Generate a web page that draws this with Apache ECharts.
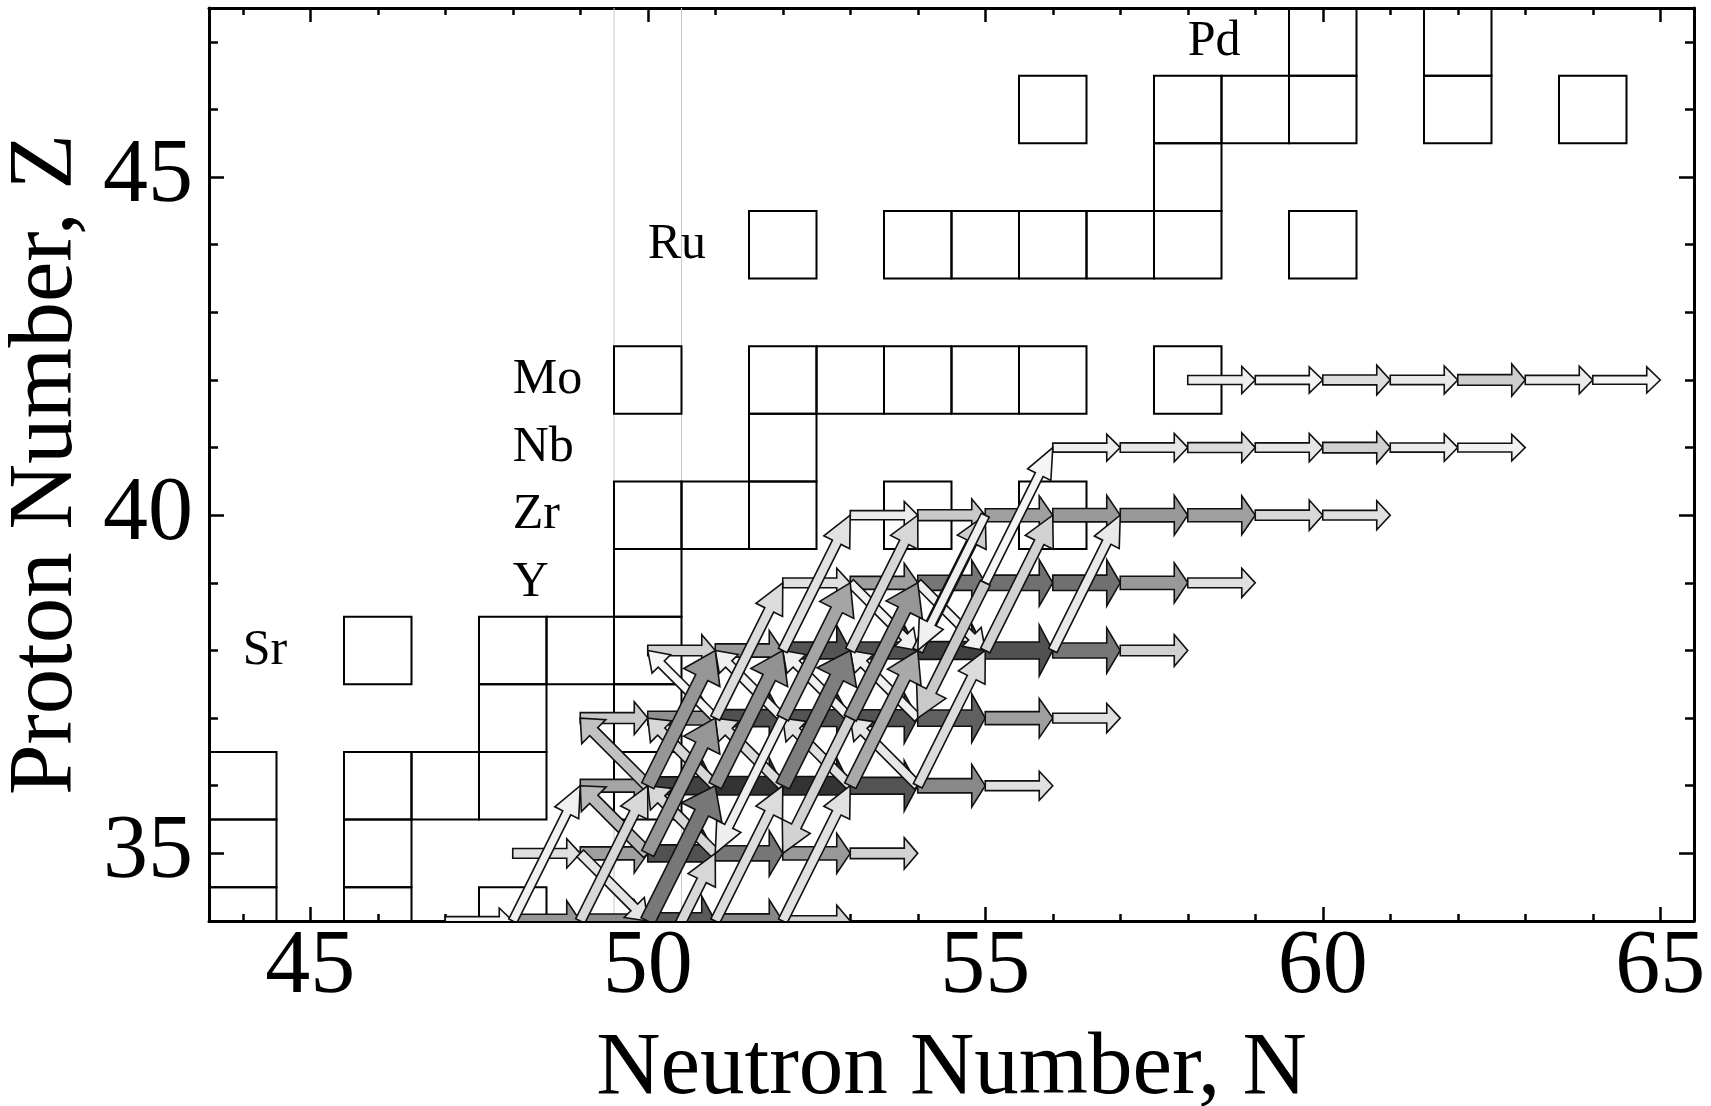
<!DOCTYPE html>
<html>
<head>
<meta charset="utf-8">
<script src="https://cdn.jsdelivr.net/npm/echarts@6/dist/echarts.min.js"></script>
<style>
html,body{margin:0;padding:0;background:#fff}
#chart{width:1711px;height:1106px}
</style>
</head>
<body>
<div id="chart"></div>
<script>
// stable nuclei, one row per proton number: [Z, [N, ...]]
var stableRows = [
    [34, [44, 46, 48]],
    [35, [44, 46]],
    [36, [44, 46, 47, 48, 50]],
    [37, [48, 50]],
    [38, [46, 48, 49, 50]],
    [39, [50]],
    [40, [50, 51, 52, 54, 56]],
    [41, [52]],
    [42, [50, 52, 53, 54, 55, 56, 58]],
    [44, [52, 54, 55, 56, 57, 58, 60]],
    [45, [58]],
    [46, [56, 58, 59, 60, 62, 64]],
    [47, [60, 62]]
];
var elementLabels = [['Sr', 44, 38], ['Y', 48, 39], ['Zr', 48, 40], ['Nb', 48, 41], ['Mo', 48, 42], ['Ru', 50, 44], ['Pd', 58, 47]];
var shellLines = [49.5, 50.5];

var xMajor = [45, 50, 55, 60, 65];
var xMinor = [44, 46, 47, 48, 49, 51, 52, 53, 54, 56, 57, 58, 59, 61, 62, 63, 64];
var yMajor = [35, 40, 45];
var yMinor = [34, 36, 37, 38, 39, 41, 42, 43, 44, 46, 47];

// flows [N, Z, log10 flow]
// (n,g): (N,Z) -> (N+1,Z)
var ngFlow = [
    [47,34,-5.92],[48,34,-3.5],[49,34,-3.25],[50,34,-2.0],[51,34,-3.15],[52,34,-5.0],
    [48,35,-5.4],[49,35,-3.75],[50,35,-1.75],[51,35,-2.7],[52,35,-3.6],[53,35,-5.0],
    [49,36,-3.9],[50,36,-1.35],[51,36,-1.0],[52,36,-1.0],[53,36,-1.85],[54,36,-3.15],[55,36,-5.4],
    [49,37,-4.8],[50,37,-3.36],[51,37,-1.75],[52,37,-1.85],[53,37,-1.85],[54,37,-2.15],[55,37,-3.75],[56,37,-5.4],
    [50,38,-5.0],[51,38,-3.6],[52,38,-1.85],[53,38,-1.75],[54,38,-1.35],[55,38,-1.75],[56,38,-2.7],[57,38,-5.0],
    [52,39,-5.4],[53,39,-3.75],[54,39,-2.7],[55,39,-2.55],[56,39,-2.55],[57,39,-3.6],[58,39,-5.4],
    [53,40,-5.67],[54,40,-4.8],[55,40,-3.75],[56,40,-3.6],[57,40,-3.6],[58,40,-3.75],[59,40,-5.2],[60,40,-5.4],
    [56,41,-5.75],[57,41,-5.55],[58,41,-5.3],[59,41,-5.55],[60,41,-5.0],[61,41,-5.7],[62,41,-5.85],
    [58,42,-5.75],[59,42,-5.88],[60,42,-5.3],[61,42,-5.6],[62,42,-4.9],[63,42,-5.65],[64,42,-5.92]
];
// (a,n): (N,Z) -> (N+1,Z+2)
var anFlow = [
    [50,33,-5.16],[48,34,-5.8],[49,34,-5.2],[50,34,-2.75],[51,34,-5.3],[52,34,-5.42],
    [50,35,-3.5],[50,36,-3.5],[51,36,-3.4],[52,36,-2.9],[53,36,-4.0],[54,36,-5.3],
    [51,37,-5.3],[52,37,-3.9],[53,37,-3.5],
    [52,38,-5.42],[53,38,-5.16],[54,38,-4.9],[55,38,-5.04],[56,38,-5.6],
    [55,39,-5.92]
];
// (n,a): (N,Z) -> (N-1,Z-2)
var naFlow = [[52,37,-5.75],[53,37,-5.04],[55,39,-4.8],[55,40,-5.8]];
// (p,n): (N,Z) -> (N-1,Z+1)
var pnFlow = [
    [50,35,-4.4],[50,36,-4.6],[51,35,-5.16],[51,36,-5.16],[51,37,-5.92],[52,36,-5.3],
    [52,37,-5.8],[53,36,-5.42],[53,37,-5.8],[54,37,-5.8],[54,36,-5.55]
];
// (n,p): (N,Z) -> (N+1,Z-1)
var npFlow = [[49,35,-5.5],[53,39,-5.85],[54,39,-5.8]];

var serif = 'Liberation Serif';

function toArrows(list, dn, dz) {
    return list.map(function (d) { return [d[0], d[1], d[0] + dn, d[1] + dz, d[2]]; });
}
var straightArrows = toArrows(ngFlow, 1, 0);
var diagArrows = toArrows(pnFlow, -1, 1).concat(toArrows(npFlow, 1, -1));
var steepArrows = toArrows(anFlow, 1, 2).concat(toArrows(naFlow, -1, -2));

var boxData = [];
stableRows.forEach(function (r) {
    r[1].forEach(function (n) { boxData.push([n, r[0]]); });
});

function gridClip(params) {
    var cs = params.coordSys;
    return {type: 'rect', shape: {x: cs.x, y: cs.y, width: cs.width, height: cs.height}};
}

//箭头：灰度和粗细都跟通量走
function renderArrow(params, api) {
    var p0 = api.coord([api.value(0), api.value(1)]);
    var p1 = api.coord([api.value(2), api.value(3)]);
    var t = Math.max(0, Math.min(1, (api.value(4) + 6) / 5));
    var w = 8.5 + 10 * t;
    var g = Math.round(248 - 197 * t);
    var dx = p1[0] - p0[0], dy = p1[1] - p0[1];
    var L = Math.sqrt(dx * dx + dy * dy);
    var ux = dx / L, uy = dy / L, nx = -uy, ny = ux;
    var hl = Math.max(13, 0.2 * L), hw = 3 * w;
    var bx = p1[0] - ux * hl, by = p1[1] - uy * hl;
    var pts = [
        [p0[0] + nx * w / 2, p0[1] + ny * w / 2],
        [bx + nx * w / 2, by + ny * w / 2],
        [bx + nx * hw / 2, by + ny * hw / 2],
        [p1[0], p1[1]],
        [bx - nx * hw / 2, by - ny * hw / 2],
        [bx - nx * w / 2, by - ny * w / 2],
        [p0[0] - nx * w / 2, p0[1] - ny * w / 2]
    ];
    return {
        type: 'group',
        clipPath: gridClip(params),
        children: [{
            type: 'polygon',
            shape: {points: pts},
            style: {fill: 'rgb(' + g + ',' + g + ',' + g + ')', stroke: '#111', lineWidth: 1.6, lineJoin: 'miter'}
        }]
    };
}

function renderBox(params, api) {
    var a = api.coord([api.value(0) - 0.5, api.value(1) + 0.5]);
    var b = api.coord([api.value(0) + 0.5, api.value(1) - 0.5]);
    return {
        type: 'group',
        clipPath: gridClip(params),
        children: [{
            type: 'rect',
            shape: {x: a[0], y: a[1], width: b[0] - a[0], height: b[1] - a[1]},
            style: {fill: null, stroke: '#000', lineWidth: 2}
        }]
    };
}

function renderShell(params, api) {
    var a = api.coord([api.value(0), 47.5]);
    var b = api.coord([api.value(0), 34]);
    return {
        type: 'line',
        shape: {x1: a[0], y1: a[1], x2: b[0], y2: b[1]},
        style: {stroke: '#c8c8c8', lineWidth: 1}
    };
}

function renderLabel(params, api) {
    var p = api.coord([api.value(1), api.value(2)]);
    return {
        type: 'text',
        x: p[0], y: p[1],
        style: {text: elementLabels[params.dataIndex][0], fontFamily: serif, fontSize: 50, fill: '#000', align: 'left', verticalAlign: 'middle'}
    };
}

function xAx(pos, ticks, len, withLabel) {
    return {
        type: 'value', position: pos, min: 43.5, max: 65.5,
        splitLine: {show: false},
        axisLine: {show: withLabel !== null, lineStyle: {color: '#000', width: 3}},
        axisTick: {show: true, inside: true, length: len, customValues: ticks, lineStyle: {color: '#000', width: 2.5}},
        axisLabel: withLabel ? {show: true, customValues: ticks, fontFamily: serif, fontSize: 90, color: '#000', margin: 2} : {show: false}
    };
}
function yAx(pos, ticks, len, withLabel) {
    return {
        type: 'value', position: pos, min: 34, max: 47.5,
        splitLine: {show: false},
        axisLine: {show: withLabel !== null, lineStyle: {color: '#000', width: 3}},
        axisTick: {show: true, inside: true, length: len, customValues: ticks, lineStyle: {color: '#000', width: 2.5}},
        axisLabel: withLabel ? {show: true, customValues: ticks, fontFamily: serif, fontSize: 90, color: '#000', margin: 16} : {show: false}
    };
}

var xAxes = [xAx('bottom', xMajor, 14, true), xAx('bottom', xMinor, 7, null), xAx('top', xMajor, 14, false), xAx('top', xMinor, 7, null)];
xAxes[0].name = 'Neutron Number, N';
xAxes[0].nameLocation = 'middle';
xAxes[0].nameGap = 104;
xAxes[0].nameTextStyle = {fontFamily: serif, fontSize: 89, color: '#000'};
var yAxes = [yAx('left', yMajor, 15, true), yAx('left', yMinor, 9, null), yAx('right', yMajor, 15, false), yAx('right', yMinor, 9, null)];
yAxes[0].name = 'Proton Number, Z';
yAxes[0].nameLocation = 'middle';
yAxes[0].nameGap = 105;
yAxes[0].nameTextStyle = {fontFamily: serif, fontSize: 91, color: '#000'};

var chart = echarts.init(document.getElementById('chart'), null, {renderer: 'canvas'});
chart.setOption({
    backgroundColor: '#fff',
    animation: false,
    grid: {left: 209, right: 17, top: 8, bottom: 185, containLabel: false, outerBoundsMode: 'none'},
    xAxis: xAxes,
    yAxis: yAxes,
    series: [
        {type: 'custom', xAxisIndex: 0, yAxisIndex: 0, z: 1, data: shellLines.map(function (v) { return [v, 40]; }), renderItem: renderShell},
        {type: 'custom', xAxisIndex: 0, yAxisIndex: 0, z: 2, data: boxData, renderItem: renderBox},
        {type: 'custom', xAxisIndex: 0, yAxisIndex: 0, z: 3, data: elementLabels.map(function (d) { return [d[0], d[1], d[2]]; }), encode: {x: 1, y: 2}, renderItem: renderLabel},
        {type: 'custom', xAxisIndex: 0, yAxisIndex: 0, z: 4, data: straightArrows, encode: {x: [0, 2], y: [1, 3]}, renderItem: renderArrow},
        {type: 'custom', xAxisIndex: 0, yAxisIndex: 0, z: 5, data: diagArrows, encode: {x: [0, 2], y: [1, 3]}, renderItem: renderArrow},
        {type: 'custom', xAxisIndex: 0, yAxisIndex: 0, z: 6, data: steepArrows, encode: {x: [0, 2], y: [1, 3]}, renderItem: renderArrow}
    ]
});
</script>
</body>
</html>
